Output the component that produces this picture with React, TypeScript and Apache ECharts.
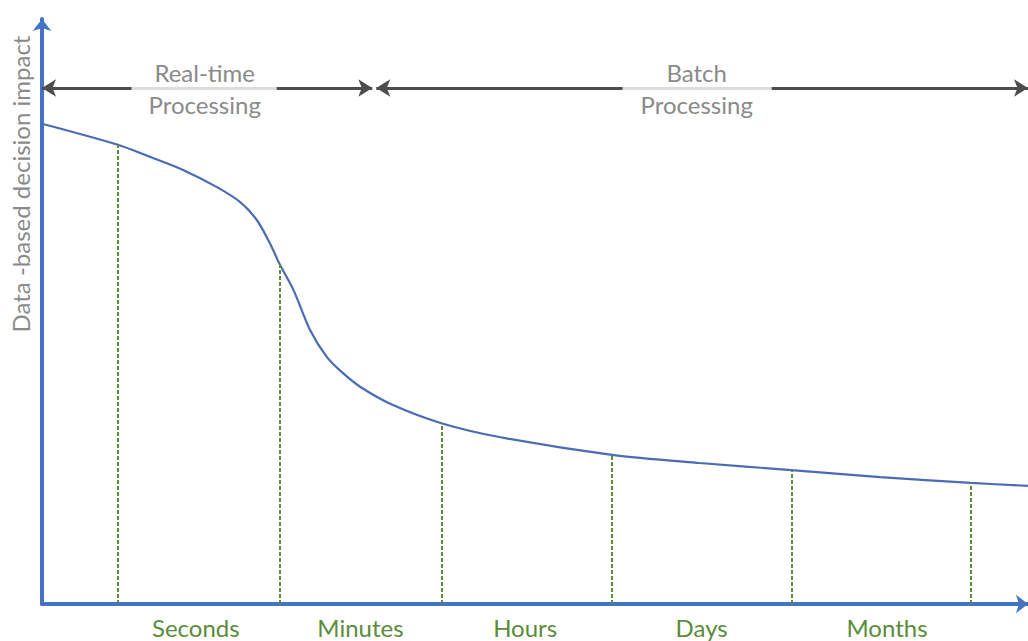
import React, { useEffect, useRef } from 'react';
import * as echarts from 'echarts';

// Curve of data-based decision impact over time (abstract units 0..100)
const curveX = [0, 7.7, 11.0, 14.3, 17.7, 20.1, 21.8, 23.1, 24.1, 25.5, 27.2, 28.9, 30.5, 32.3, 35.6, 40.5, 46.5, 57.8, 66.7, 76.0, 85.0, 94.2, 100];
const curveY = [82.1, 78.5, 76.4, 74.2, 71.3, 68.7, 65.6, 61.7, 58.1, 53.7, 46.8, 42.2, 39.5, 37.1, 34.0, 30.9, 28.5, 25.5, 24.1, 22.9, 21.7, 20.7, 20.2];

// Boundaries between time scales (dashed green lines)
const boundaryX = [7.7, 24.1, 40.5, 57.8, 76.0, 94.2];

// Time-scale categories and their centre positions
const categories = ['Seconds', 'Minutes', 'Hours', 'Days', 'Months'];
const categoryPos = [15.6, 32.3, 49.0, 66.9, 85.7];

// Processing phases (top arrows)
const phaseNames = ['Real-time\nProcessing', 'Batch\nProcessing'];
const phaseStart = [0, 33.9];
const phaseEnd = [33.5, 100];
const phaseLabelX = [16.5, 66.4];
const phaseGapStart = [9.1, 58.9];
const phaseGapEnd = [23.8, 74.0];
const phaseY = 88.2;

const yAxisTitle = 'Data -based decision impact';

const FONT = 'Lato, "Open Sans", sans-serif';
const BLUE = '#4472C4';
const GREEN = '#5B8C3A';
const ARROW = '#4d4d4d';

export default function App() {
  const ref = useRef<HTMLDivElement>(null);

  useEffect(() => {
    if (!ref.current) return;
    const chart = echarts.init(ref.current, null, { renderer: 'svg' });

    const curveData = curveX.map((x, i) => [x, curveY[i]]);
    const yAt = (x: number) => {
      const i = curveX.findIndex((v) => Math.abs(v - x) < 1e-6);
      return curveY[i];
    };

    const dashed = boundaryX.map((x) => [
      { coord: [x, 0], symbol: 'none', lineStyle: { color: GREEN, width: 2, type: [4, 2] } },
      { coord: [x, yAt(x)], symbol: 'none' },
    ]);

    const arrows: any[] = [];
    phaseNames.forEach((_, i) => {
      const solid = { color: ARROW, width: 3, type: 'solid' };
      arrows.push([
        { coord: [phaseStart[i], phaseY], symbol: 'arrow', symbolSize: [13, 14], lineStyle: solid },
        { coord: [phaseGapStart[i], phaseY], symbol: 'none' },
      ]);
      arrows.push([
        { coord: [phaseGapStart[i], phaseY], symbol: 'none', lineStyle: { color: '#dcdcdc', width: 3, type: 'solid' } },
        { coord: [phaseGapEnd[i], phaseY], symbol: 'none' },
      ]);
      arrows.push([
        { coord: [phaseGapEnd[i], phaseY], symbol: 'none', lineStyle: solid },
        { coord: [phaseEnd[i], phaseY], symbol: 'arrow', symbolSize: [13, 14] },
      ]);
    });

    chart.setOption({
      animation: false,
      grid: { left: 42, right: 0, top: 19, bottom: 37, containLabel: false },
      xAxis: {
        type: 'value',
        min: 0,
        max: 100,
        axisLine: {
          show: true,
          lineStyle: { color: BLUE, width: 4 },
          symbol: ['none', 'arrow'],
          symbolSize: [14, 12],
        },
        axisTick: { show: false },
        splitLine: { show: false },
        axisLabel: {
          customValues: categoryPos,
          formatter: (v: number) => {
            const i = categoryPos.findIndex((p) => Math.abs(p - v) < 1e-6);
            return i >= 0 ? categories[i] : '';
          },
          color: GREEN,
          fontSize: 24,
          fontFamily: FONT,
          margin: 11,
        },
      },
      yAxis: {
        type: 'value',
        min: 0,
        max: 100,
        axisLine: {
          show: true,
          lineStyle: { color: BLUE, width: 4 },
          symbol: ['none', 'arrow'],
          symbolSize: [14, 12],
        },
        axisTick: { show: false },
        axisLabel: { show: false },
        splitLine: { show: false },
      },
      graphic: [
        {
          type: 'text',
          x: 20,
          y: 184,
          rotation: Math.PI / 2,
          style: {
            text: yAxisTitle,
            fill: '#8a8a8a',
            font: `24px ${FONT}`,
            align: 'center',
            verticalAlign: 'middle',
          },
        },
      ],
      series: [
        {
          type: 'line',
          data: curveData,
          smooth: 0.3,
          showSymbol: false,
          symbol: 'none',
          lineStyle: { color: '#4A6CB5', width: 2.2 },
          z: 3,
          markLine: {
            silent: true,
            symbol: 'none',
            label: { show: false },
            data: [...dashed, ...arrows],
          },
          markPoint: {
            silent: true,
            symbol: 'rect',
            symbolSize: 1,
            itemStyle: { color: 'rgba(0,0,0,0)' },
            label: {
              show: true,
              position: 'inside',
              color: '#8a8a8a',
              fontSize: 24,
              fontFamily: FONT,
              lineHeight: 32,
              formatter: (p: any) => p.name,
            },
            data: phaseNames.map((n, i) => ({ name: n, coord: [phaseLabelX[i], phaseY] })),
          },
        },
      ],
    });

    return () => chart.dispose();
  }, []);

  return (
    <div
      ref={ref}
      style={{ position: 'fixed', left: 0, top: 0, width: 1028, height: 641, background: '#fff' }}
    />
  );
}
